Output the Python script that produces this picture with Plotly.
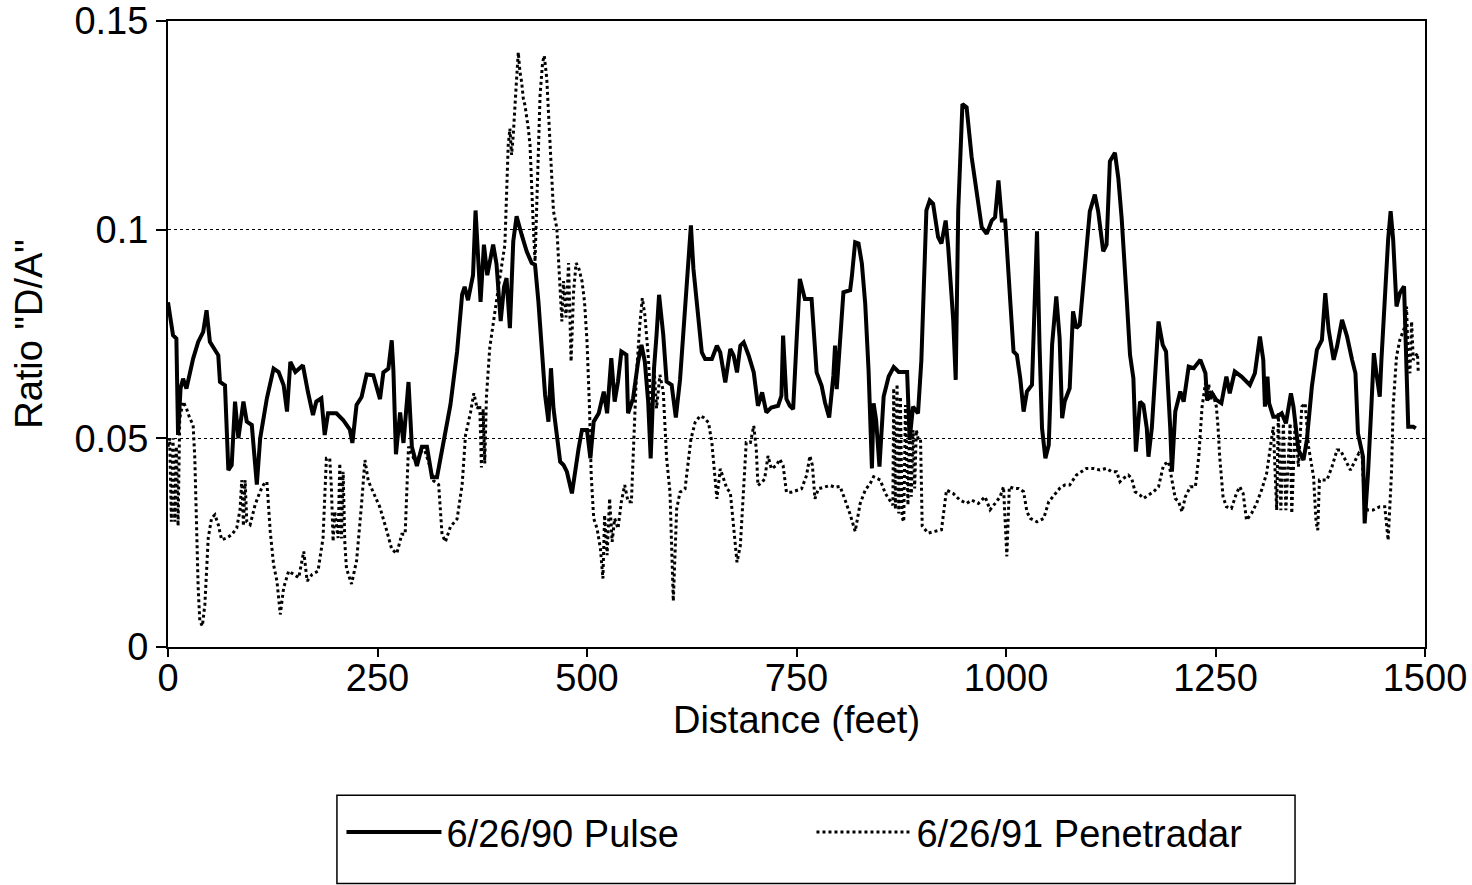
import plotly.graph_objects as go

# ---- data (distance in feet, ratio D/A) ----
pulse_points = [
    (0,0.0826),(6,0.0747),(10,0.0739),(12,0.0508),(15,0.062),(18,0.0643),(22,0.0619),(30,0.0691),(36,0.0731),(42,0.0755),
    (46,0.0807),(50,0.0731),(60,0.0699),(62,0.0635),(68,0.0627),(70,0.05),(72,0.0424),(76,0.0436),(80,0.0588),(84,0.05),
    (90,0.0588),(94,0.054),(100,0.0532),(106,0.0389),(110,0.05),(118,0.0596),(126,0.0667),(132,0.0659),(138,0.0627),(142,0.0564),
    (146,0.0683),(152,0.0659),(161,0.0675),(167,0.0611),(173,0.0556),(177,0.0588),(183,0.0596),(187,0.0508),(191,0.056),(201,0.056),
    (209,0.0544),(217,0.0521),(220,0.0489),(225,0.058),(231,0.0599),(237,0.0653),(245,0.0651),(253,0.0594),(257,0.0658),(263,0.0667),
    (267,0.0735),(269,0.0662),(272,0.0462),(277,0.0562),(281,0.0489),(287,0.0635),(291,0.048),(297,0.0434),(303,0.048),(309,0.048),
    (315,0.0407),(321,0.0407),(327,0.0471),(337,0.058),(345,0.0708),(351,0.0845),(354,0.0863),(358,0.0831),(364,0.0891),(367,0.1046),
    (370,0.0936),(373,0.0827),(377,0.0964),(381,0.0891),(388,0.0964),(392,0.0918),(397,0.0781),(401,0.0863),(404,0.0884),(408,0.0764),
    (412,0.0972),(416,0.1032),(422,0.0988),(428,0.0948),(434,0.092),(438,0.0916),(442,0.0828),(446,0.0716),(450,0.0604),(454,0.054),
    (457,0.0668),(460,0.0572),(464,0.0508),(468,0.0444),(472,0.0436),(476,0.042),(482,0.0368),(486,0.0428),(490,0.0476),(494,0.052),
    (500,0.052),(504,0.0452),(508,0.054),(514,0.056),(520,0.0612),(524,0.056),(529,0.0692),(533,0.0588),(537,0.0636),(541,0.0708),
    (547,0.07),(549,0.056),(555,0.0596),(561,0.0684),(565,0.0724),(569,0.0684),(573,0.0588),(576,0.0452),(580,0.0668),(583,0.0748),
    (586,0.0844),(591,0.0748),(595,0.0636),(601,0.0628),(606,0.055),(611,0.064),(617,0.0826),(621,0.0914),(624,0.101),(627,0.0906),
    (631,0.0818),(637,0.0706),(641,0.069),(649,0.069),(655,0.0722),(659,0.0706),(665,0.0634),(671,0.0714),(675,0.0698),(679,0.0658),
    (683,0.0722),(687,0.073),(693,0.0698),(699,0.0658),(704,0.0578),(709,0.061),(714,0.0562),(720,0.0574),(728,0.0578),(732,0.0602),
    (734,0.0746),(738,0.0594),(742,0.0578),(746,0.057),(750,0.073),(754,0.0882),(760,0.0834),(768,0.0834),(774,0.0658),(780,0.0626),
    (784,0.0586),(789,0.055),(794,0.065),(796,0.0722),(798,0.0618),(802,0.0746),(806,0.085),(814,0.0855),(816,0.0887),(820,0.097),
    (824,0.0967),(828,0.0919),(832,0.0823),(836,0.0663),(840,0.0428),(842,0.0584),(845,0.0544),(849,0.0432),(854,0.06),(860,0.0648),
    (866,0.0671),(872,0.0659),(882,0.0659),(885,0.0496),(889,0.0576),(895,0.056),(899,0.0687),(905,0.1046),(909,0.107),(913,0.1062),
    (919,0.0982),(923,0.0967),(928,0.1022),(931,0.0959),(937,0.0783),(940,0.064),(943,0.1046),(948,0.1301),(953,0.1293),(959,0.1174),
    (965,0.1086),(971,0.1006),(977,0.099),(983,0.1022),(987,0.103),(991,0.1118),(995,0.1022),(999,0.1022),(1005,0.0831),(1009,0.0708),
    (1013,0.07),(1017,0.0644),(1021,0.0564),(1025,0.0612),(1031,0.0628),(1033,0.0764),(1037,0.0996),(1040,0.0724),(1043,0.0524),(1047,0.0452),
    (1051,0.0484),(1055,0.0724),(1060,0.084),(1064,0.074),(1067,0.0548),(1070,0.0588),(1076,0.062),(1080,0.0804),(1084,0.0764),(1088,0.0772),
    (1094,0.09),(1100,0.1044),(1106,0.1084),(1110,0.1044),(1116,0.0948),(1120,0.0964),(1124,0.1164),(1130,0.1184),(1134,0.1124),(1138,0.1028),
    (1144,0.0836),(1148,0.07),(1152,0.0644),(1155,0.0468),(1160,0.0588),(1164,0.058),(1168,0.0524),(1170,0.0456),(1174,0.0524),(1178,0.066),
    (1182,0.078),(1187,0.0724),(1191,0.0708),(1196,0.0524),(1198,0.042),(1202,0.0564),(1208,0.0612),(1212,0.0588),(1218,0.0672),(1224,0.0668),
    (1232,0.0688),(1238,0.0656),(1240,0.0592),(1246,0.0608),(1251,0.0592),(1257,0.0584),(1263,0.0648),(1267,0.0608),(1273,0.066),(1281,0.0648),
    (1291,0.0628),(1297,0.0656),(1303,0.0744),(1307,0.0688),(1309,0.0576),(1312,0.0648),(1314,0.0584),(1319,0.0552),(1323,0.0552),(1329,0.056),
    (1334,0.0536),(1340,0.0608),(1343,0.0576),(1349,0.0472),(1355,0.0448),(1359,0.0496),(1365,0.0624),(1371,0.0712),(1377,0.0736),(1381,0.0848),
    (1385,0.076),(1391,0.0688),(1395,0.072),(1401,0.0784),(1407,0.0744),(1413,0.0688),(1417,0.0656),(1420,0.0512),(1426,0.0456),(1428,0.0296),
    (1432,0.0416),(1436,0.0576),(1439,0.0704),(1442,0.0656),(1446,0.06),(1448,0.0688),(1452,0.0856),(1456,0.0976),(1459,0.1044),(1462,0.0976),
    (1466,0.0816),(1470,0.0848),(1475,0.0864),(1477,0.0752),(1480,0.0528),(1486,0.0528),(1489,0.0524),
]

penetradar_points = [
    (0,0.048),(2,0.05),(4,0.03),(6,0.05),(8,0.03),(10,0.048),(12,0.029),(14,0.0548),(18,0.0588),(22,0.0572),
    (26,0.0548),(30,0.0532),(32,0.0452),(34,0.03),(36,0.0142),(38,0.0062),(41,0.005),(44,0.0102),(48,0.0261),(52,0.0309),
    (56,0.0317),(60,0.0293),(64,0.0257),(70,0.0261),(76,0.0269),(82,0.0285),(86,0.033),(88,0.040),(90,0.029),(92,0.040),
    (94,0.030),(98,0.0293),(104,0.0341),(110,0.0373),(114,0.0389),(118,0.0396),(122,0.0277),(126,0.0197),(130,0.0158),(134,0.0078),
    (138,0.0142),(144,0.0182),(150,0.0174),(156,0.0166),(162,0.0229),(166,0.0158),(172,0.0174),(179,0.0182),(185,0.0261),(189,0.0452),
    (193,0.0452),(195,0.0381),(197,0.0253),(199,0.0325),(203,0.0261),(205,0.044),(207,0.026),(209,0.042),(211,0.025),(213,0.0188),
    (219,0.0151),(225,0.0206),(231,0.0343),(235,0.0448),(239,0.0398),(245,0.037),(253,0.0334),(261,0.0279),(267,0.0234),(273,0.0224),
    (279,0.027),(283,0.027),(287,0.048),(293,0.0453),(299,0.0453),(305,0.048),(311,0.0443),(317,0.0398),(323,0.0389),(327,0.027),
    (331,0.0252),(337,0.0288),(345,0.0307),(351,0.0389),(355,0.0507),(361,0.0562),(365,0.0608),(369,0.0571),(372,0.058),(374,0.043),
    (376,0.057),(378,0.044),(380,0.06),(384,0.0718),(390,0.0805),(396,0.0885),(402,0.0964),(404,0.1083),(406,0.1203),(408,0.1242),
    (410,0.1179),(412,0.1227),(414,0.1282),(416,0.1362),(418,0.1425),(420,0.1378),(422,0.1354),(424,0.1314),(426,0.1298),(428,0.1274),
    (430,0.1242),(432,0.1203),(434,0.1083),(436,0.1004),(438,0.0924),(440,0.1044),(442,0.1203),(444,0.1322),(447,0.1401),(449,0.1417),
    (452,0.1362),(454,0.1282),(456,0.1203),(458,0.1123),(460,0.1044),(464,0.1004),(466,0.0924),(468,0.0845),(470,0.078),(472,0.0877),
    (475,0.079),(478,0.092),(481,0.0684),(484,0.0852),(487,0.092),(490,0.0909),(494,0.0877),(497,0.0828),(500,0.0732),(503,0.0572),
    (505,0.0412),(508,0.0308),(512,0.0284),(516,0.0236),(519,0.0164),(521,0.0316),(524,0.022),(527,0.0356),(530,0.0252),(533,0.0308),
    (537,0.0284),(541,0.0348),(545,0.0388),(549,0.0348),(553,0.0348),(555,0.0452),(559,0.0652),(563,0.0772),(566,0.0836),(569,0.0796),
    (573,0.07),(577,0.0556),(580,0.0668),(583,0.0572),(587,0.0652),(591,0.0612),(595,0.0452),(599,0.0372),(601,0.0252),(603,0.011),
    (607,0.0331),(611,0.0371),(617,0.0379),(621,0.045),(624,0.0498),(629,0.0538),(635,0.0554),(639,0.055),(645,0.0538),(649,0.049),
    (653,0.0387),(655,0.0355),(659,0.0427),(663,0.0403),(667,0.0379),(671,0.0371),(675,0.0291),(679,0.0203),(683,0.0243),(687,0.0395),
    (690,0.049),(695,0.049),(699,0.053),(702,0.0474),(704,0.0387),(709,0.0395),(712,0.0403),(716,0.0458),(720,0.0427),(726,0.0435),
    (730,0.045),(734,0.0435),(738,0.0371),(744,0.0371),(750,0.0375),(756,0.0379),(762,0.0411),(766,0.0458),(769,0.0435),(772,0.0355),
    (776,0.0379),(782,0.0383),(790,0.0387),(796,0.0383),(802,0.0385),(808,0.0352),(814,0.0318),(820,0.0277),(826,0.0344),(832,0.0376),
    (838,0.0392),(842,0.0408),(850,0.04),(856,0.0368),(862,0.035),(865,0.034),(866,0.062),(868,0.033),(870,0.063),(872,0.032),
    (874,0.06),(876,0.031),(878,0.03),(880,0.058),(883,0.034),(885,0.054),(887,0.036),(889,0.052),(891,0.038),(893,0.052),
    (895,0.05),(898,0.05),(900,0.029),(907,0.0273),(915,0.0277),(923,0.0281),(929,0.0376),(937,0.0368),(945,0.0352),(953,0.0344),
    (959,0.0352),(967,0.0344),(975,0.036),(981,0.0329),(987,0.0344),(993,0.036),(997,0.0384),(999,0.0281),(1001,0.0217),(1004,0.0384),
    (1009,0.038),(1015,0.038),(1021,0.0372),(1025,0.0324),(1029,0.0308),(1037,0.03),(1045,0.0308),(1051,0.0348),(1057,0.0364),(1064,0.038),
    (1070,0.0388),(1076,0.0388),(1084,0.0412),(1090,0.042),(1096,0.0428),(1104,0.0428),(1112,0.0424),(1120,0.0428),(1126,0.042),(1132,0.042),
    (1136,0.0396),(1140,0.0404),(1146,0.0412),(1150,0.0404),(1154,0.0372),(1160,0.0364),(1164,0.0356),(1170,0.0364),(1176,0.0372),(1182,0.0384),
    (1188,0.0436),(1194,0.0444),(1198,0.0404),(1202,0.0356),(1206,0.0348),(1210,0.0324),(1214,0.036),(1220,0.0384),(1226,0.0384),(1230,0.0456),
    (1234,0.0576),(1238,0.0632),(1240,0.059),(1242,0.063),(1244,0.059),(1247,0.0608),(1251,0.0576),(1253,0.0528),(1255,0.0456),(1259,0.036),
    (1263,0.0336),(1269,0.0332),(1275,0.0368),(1279,0.0384),(1283,0.0368),(1287,0.0304),(1293,0.032),(1299,0.0344),(1305,0.0376),(1311,0.0416),
    (1315,0.0472),(1319,0.0528),(1323,0.0328),(1325,0.056),(1328,0.0328),(1331,0.0536),(1334,0.0328),(1339,0.0536),(1341,0.032),(1345,0.0536),
    (1349,0.0432),(1353,0.0576),(1357,0.0584),(1361,0.048),(1367,0.0408),(1370,0.03),(1372,0.028),(1374,0.04),(1377,0.04),(1383,0.04),
    (1389,0.0432),(1395,0.0472),(1399,0.0472),(1405,0.0448),(1411,0.0424),(1415,0.044),(1421,0.0464),(1425,0.0456),(1428,0.0336),(1432,0.0328),
    (1438,0.0328),(1446,0.0336),(1452,0.0336),(1456,0.0256),(1460,0.0416),(1462,0.0576),(1466,0.0696),(1470,0.0736),(1476,0.0768),(1478,0.0816),
    (1480,0.068),(1482,0.0656),(1484,0.078),(1486,0.0688),(1491,0.0704),(1492,0.0656),
]

series_names = ["6/26/90 Pulse", "6/26/91 Penetradar"]
x_tick_values = [0, 250, 500, 750, 1000, 1250, 1500]
x_tick_labels = ["0", "250", "500", "750", "1000", "1250", "1500"]
y_tick_values = [0, 0.05, 0.1, 0.15]
y_tick_labels = ["0", "0.05", "0.1", "0.15"]

pulse_distance = [p[0] for p in pulse_points]
pulse_ratio = [p[1] for p in pulse_points]
pen_distance = [p[0] for p in penetradar_points]
pen_ratio = [p[1] for p in penetradar_points]

FONT = "Liberation Sans, Arial, Helvetica, sans-serif"

fig = go.Figure()
fig.add_trace(go.Scatter(x=pulse_distance, y=pulse_ratio, mode="lines", name=series_names[0],
                         line=dict(color="black", width=4)))
fig.add_trace(go.Scatter(x=pen_distance, y=pen_ratio, mode="lines", name=series_names[1],
                         line=dict(color="black", width=3, dash="dot")))

fig.update_layout(
    width=1472, height=885,
    margin=dict(l=168, r=47, t=21, b=238, autoexpand=False),
    paper_bgcolor="white", plot_bgcolor="white",
    font=dict(family=FONT, size=38, color="black"),
    showlegend=True,
    legend=dict(orientation="h", x=0.138, xanchor="left", y=-0.296, yanchor="middle",
                font=dict(size=38), entrywidth=360, entrywidthmode="pixels",
                bgcolor="rgba(0,0,0,0)", borderwidth=0, itemwidth=95),
    shapes=[dict(type="rect", xref="paper", yref="paper", x0=0.1344, x1=0.8966,
                 y0=-0.3779, y1=-0.2370, line=dict(color="black", width=1.5))],
)
fig.update_xaxes(range=[0, 1500], tickvals=x_tick_values, ticktext=x_tick_labels,
                 showgrid=False, zeroline=False, showline=True, linecolor="black", linewidth=2,
                 mirror=True, ticks="outside", ticklen=8, tickwidth=1.5, tickcolor="black",
                 ticklabelstandoff=-12, ticklabeloverflow="allow",
                 title=dict(text="Distance (feet)", standoff=8, font=dict(size=38)))
fig.update_yaxes(range=[0, 0.15], tickvals=y_tick_values, ticktext=y_tick_labels,
                 showgrid=True, gridcolor="black", gridwidth=1, griddash="dot", zeroline=False,
                 showline=True, linecolor="black", linewidth=2, mirror=True,
                 ticks="outside", ticklen=10, tickwidth=1.5, tickcolor="black",
                 ticklabeloverflow="allow",
                 title=dict(text='Ratio "D/A"', standoff=20, font=dict(size=38)))

fig.write_html("out.html")
